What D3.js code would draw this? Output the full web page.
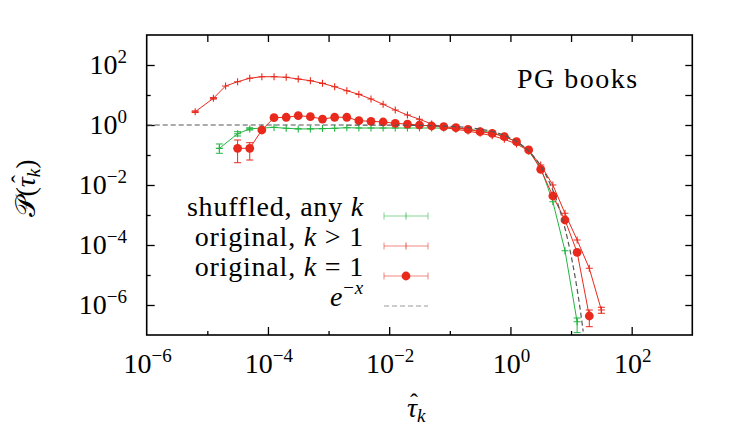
<!DOCTYPE html>
<html>
<head>
<meta charset="utf-8">
<script src="https://cdn.jsdelivr.net/npm/d3@7"></script>
<style>
  html, body { margin: 0; padding: 0; background: #fff; }
  svg { display: block; }
</style>
</head>
<body>
<svg id="chart" width="746" height="432" font-family="'Liberation Serif', 'Times New Roman', Times, serif"></svg>
<script>
// ---------- data ----------
// shuffled, any k
const tauShuffled = [1.58e-5, 3.16e-5, 5.01e-5, 7.94e-5, 1.26e-4, 2.00e-4, 3.16e-4, 5.01e-4, 7.94e-4,
  1.26e-3, 2.00e-3, 3.16e-3, 5.01e-3, 7.94e-3, 1.26e-2, 2.00e-2, 3.16e-2, 5.01e-2, 7.94e-2,
  0.126, 0.200, 0.316, 0.501, 0.794, 1.26, 2.00, 3.16, 5.01, 7.94, 12.6];
const pShuffled = [0.166, 0.513, 0.741, 0.794, 0.832, 0.776, 0.741, 0.741, 0.759,
  0.776, 0.813, 0.794, 0.794, 0.794, 0.794, 0.794, 0.794, 0.794, 0.785,
  0.776, 0.724, 0.646, 0.55, 0.427, 0.269, 0.135, 0.038, 2.75e-3, 6.46e-5, 2.75e-7];
const errShuffledTau = [1.58e-5, 3.16e-5, 5.01e-5, 12.6];
const errShuffledLo  = [0.114, 0.43, 0.68, 1.2e-7];
const errShuffledHi  = [0.233, 0.60, 0.81, 3.7e-7];

// original, k > 1
const tauOrigK = [6.31e-6, 1.26e-5, 2.00e-5, 3.16e-5, 5.01e-5, 7.94e-5, 1.26e-4, 2.00e-4, 3.16e-4,
  5.01e-4, 7.94e-4, 1.26e-3, 2.00e-3, 3.16e-3, 5.01e-3, 7.94e-3, 1.26e-2, 2.00e-2, 3.16e-2,
  5.01e-2, 7.94e-2, 0.126, 0.200, 0.316, 0.501, 0.794, 1.26, 2.00, 3.16, 5.01, 7.94, 12.6, 20.0, 31.6];
const pOrigK = [2.77, 7.76, 20.0, 27.7, 36.1, 40.7, 40.7, 38.9, 34.1,
  30.0, 24.5, 18.9, 13.9, 10.5, 7.36, 4.9, 3.16, 2.15, 1.55,
  1.08, 0.838, 0.719, 0.631, 0.528, 0.44, 0.333, 0.233, 0.139, 0.0465, 0.01, 1.14e-3, 1.47e-4, 1.67e-5, 6.81e-7];
const errOrigKTau = [6.31e-6, 1.26e-5, 31.6];
const errOrigKLo  = [2.6, 7.3, 5.3e-7];
const errOrigKHi  = [2.95, 8.2, 8.4e-7];

// original, k = 1
const tauOrig1 = [3.16e-5, 5.01e-5, 7.94e-5, 1.26e-4, 2.00e-4, 3.16e-4, 5.01e-4, 7.94e-4,
  1.26e-3, 2.00e-3, 3.16e-3, 5.01e-3, 7.94e-3, 1.26e-2, 2.00e-2, 3.16e-2,
  5.01e-2, 7.94e-2, 0.126, 0.200, 0.316, 0.501, 0.794, 1.26, 2.00, 3.16, 5.01, 7.94, 12.6, 20.0];
const pOrig1 = [0.167, 0.167, 0.681, 1.75, 1.81, 2.04, 1.89, 1.58,
  1.81, 1.81, 1.39, 1.33, 1.26, 1.14, 1.07, 1.0,
  0.927, 0.877, 0.813, 0.719, 0.598, 0.528, 0.407, 0.277, 0.147, 0.0333, 4.3e-3, 6.81e-4, 5.71e-5, 4.3e-7];
const errOrig1Tau = [3.16e-5, 5.01e-5, 20.0];
const errOrig1Lo  = [0.0553, 0.068, 1.89e-7];
const errOrig1Hi  = [0.316, 0.257, 6.81e-7];

// tick labels
const xTickExps = [-6, -4, -2, 0, 2];
const yTickExps = [2, 0, -2, -4, -6];
const legendLabels = ["shuffled, any k", "original, k > 1", "original, k = 1", "e^{-x}"];

// ---------- drawing ----------
const RED = "#e8291c", GREEN = "#22b540", DASH = "#555";
const svg = d3.select("#chart");
const L = 146.7, R = 692.3, T = 35, B = 335;
const x = d3.scaleLog().domain([1e-6, 1e3]).range([L, R]);
const y = d3.scaleLog().domain([1e-7, 1e3]).range([B, T]);

svg.append("defs").append("clipPath").attr("id", "clip")
  .append("rect").attr("x", L).attr("y", T).attr("width", R - L).attr("height", B - T);

// axes with ticks (inward)
const xDecades = d3.range(-6, 4).map(e => Math.pow(10, e));
const yDecades = d3.range(-7, 4).map(e => Math.pow(10, e));
const isMajorX = d => xTickExps.includes(Math.round(Math.log10(d)));
const isMajorY = d => yTickExps.includes(Math.round(Math.log10(d)));

const axB = d3.axisBottom(x).tickValues(xDecades.slice(1, -1)).tickFormat("").tickSizeOuter(0);
const axT = d3.axisTop(x).tickValues(xDecades.slice(1, -1)).tickFormat("").tickSizeOuter(0).tickSizeInner(-7);
const axL = d3.axisLeft(y).tickValues(yDecades.slice(1, -1)).tickFormat("").tickSizeOuter(0);
const axR = d3.axisRight(y).tickValues(yDecades.slice(1, -1)).tickFormat("").tickSizeOuter(0).tickSizeInner(-7);

function styleAxis(g) {
  g.select(".domain").remove();
  g.selectAll(".tick line").attr("stroke", "#000").attr("stroke-width", 1.3);
}
const gB = svg.append("g").attr("transform", `translate(0,${B})`).call(axB).call(styleAxis);
gB.selectAll(".tick line").attr("y2", d => isMajorX(d) ? -8 : -4);
svg.append("g").attr("transform", `translate(0,${T})`).call(axT).call(styleAxis);
const gL = svg.append("g").attr("transform", `translate(${L},0)`).call(axL).call(styleAxis);
gL.selectAll(".tick line").attr("x2", d => isMajorY(d) ? 8 : 4);
svg.append("g").attr("transform", `translate(${R},0)`).call(axR).call(styleAxis);

// tick labels
function powLabel(g, px, py, exp, anchor) {
  const t = g.append("text").attr("x", px).attr("y", py).attr("text-anchor", anchor)
    .attr("font-size", 28);
  t.append("tspan").text("10");
  t.append("tspan").attr("dy", -11).attr("font-size", 19)
    .text(exp < 0 ? "\u2212" + Math.abs(exp) : String(exp));
}
const labels = svg.append("g");
xTickExps.forEach(e => powLabel(labels, x(Math.pow(10, e)) + 1, 372.5, e, "middle"));
yTickExps.forEach(e => powLabel(labels, 127, y(Math.pow(10, e)) + 9, e, "end"));

// axis titles
const xt = svg.append("text").attr("x", 407).attr("y", 417).attr("font-size", 28).attr("font-style", "italic");
xt.append("tspan").text("\u03C4");
xt.append("tspan").attr("dy", 5).attr("font-size", 19).text("k");
svg.append("text").attr("x", 414).attr("y", 410).attr("text-anchor", "middle")
  .attr("font-size", 24).text("\u02C6");

const yt = svg.append("text").attr("transform", "translate(35,188) rotate(-90)")
  .attr("text-anchor", "middle").attr("font-size", 28);
yt.append("tspan").text("\uD835\uDCAB(");
yt.append("tspan").attr("font-style", "italic").text("\u03C4");
yt.append("tspan").attr("dy", 5).attr("font-size", 19).attr("font-style", "italic").text("k");
yt.append("tspan").attr("dy", -5).text(")");
// hat over tau in y label (rotated frame)
svg.append("text").attr("transform", "translate(35,188) rotate(-90)")
  .attr("x", 9).attr("y", -7).attr("text-anchor", "middle").attr("font-size", 24).text("\u02C6");

svg.append("text").attr("x", 517).attr("y", 88).attr("font-size", 28)
  .attr("letter-spacing", 1.5).text("PG books");

// plot contents
const plot = svg.append("g").attr("clip-path", "url(#clip)");
const line = d3.line().x(d => x(d[0])).y(d => y(d[1]));

function zip(a, b) { return a.map((v, i) => [v, b[i]]); }

function errorBars(g, taus, lo, hi, color) {
  taus.forEach((t, i) => {
    const px = x(t);
    g.append("line").attr("x1", px).attr("x2", px).attr("y1", y(lo[i])).attr("y2", y(hi[i]))
      .attr("stroke", color).attr("stroke-width", 1);
    [lo[i], hi[i]].forEach(v => g.append("line").attr("x1", px - 3.5).attr("x2", px + 3.5)
      .attr("y1", y(v)).attr("y2", y(v)).attr("stroke", color).attr("stroke-width", 1));
  });
}
function plusMarks(g, pts, color) {
  g.selectAll(null).data(pts).enter().append("path")
    .attr("d", d => `M${x(d[0]) - 3.5},${y(d[1])}h7M${x(d[0])},${y(d[1]) - 3.5}v7`)
    .attr("stroke", color).attr("stroke-width", 1.1).attr("fill", "none");
}

// shuffled
const sPts = zip(tauShuffled, pShuffled);
plot.append("path").datum(sPts).attr("d", line).attr("fill", "none").attr("stroke", GREEN).attr("stroke-width", 1);
errorBars(plot, errShuffledTau, errShuffledLo, errShuffledHi, GREEN);
plusMarks(plot, sPts, GREEN);

// original k>1
const kPts = zip(tauOrigK, pOrigK);
plot.append("path").datum(kPts).attr("d", line).attr("fill", "none").attr("stroke", RED).attr("stroke-width", 1);
errorBars(plot, errOrigKTau, errOrigKLo, errOrigKHi, RED);
plusMarks(plot, kPts, RED);

// original k=1
const oPts = zip(tauOrig1, pOrig1);
plot.append("path").datum(oPts).attr("d", line).attr("fill", "none").attr("stroke", RED).attr("stroke-width", 1);
errorBars(plot, errOrig1Tau, errOrig1Lo, errOrig1Hi, RED);
plot.selectAll(null).data(oPts).enter().append("circle")
  .attr("cx", d => x(d[0])).attr("cy", d => y(d[1])).attr("r", 4.4).attr("fill", RED);

// e^{-x} reference curve
const expTau = d3.range(-6, 1.21, 0.01).map(e => Math.pow(10, e));
plot.append("path").datum(expTau.map(t => [t, Math.exp(-t)]))
  .attr("d", line).attr("fill", "none").attr("stroke", DASH).attr("stroke-width", 1.2)
  .attr("stroke-dasharray", "5,3");

// frame
svg.append("rect").attr("x", L).attr("y", T).attr("width", R - L).attr("height", B - T)
  .attr("fill", "none").attr("stroke", "#000").attr("stroke-width", 1.6);

// legend
const legY = [216, 246, 276, 306];
const lg = svg.append("g");
function legText(i, parts) {
  const t = lg.append("text").attr("x", 364).attr("y", legY[i]).attr("text-anchor", "end")
    .attr("font-size", 28).attr("letter-spacing", 0.8);
  parts.forEach(p => {
    const s = t.append("tspan").text(p.t);
    if (p.i) s.attr("font-style", "italic");
    if (p.dy) s.attr("dy", p.dy);
    if (p.fs) s.attr("font-size", p.fs);
  });
}
legText(0, [{t: "shuffled, any "}, {t: "k", i: true}]);
legText(1, [{t: "original, "}, {t: "k", i: true}, {t: " > 1"}]);
legText(2, [{t: "original, "}, {t: "k", i: true}, {t: " = 1"}]);
legText(3, [{t: "e", i: true}, {t: "\u2212", dy: -12, fs: 19}, {t: "x", i: true, fs: 19}]);

function legSample(i, color, kind) {
  const yy = legY[i];
  if (kind === "dash") {
    lg.append("line").attr("x1", 384).attr("x2", 428).attr("y1", yy).attr("y2", yy)
      .attr("stroke", "#999").attr("stroke-width", 1.2).attr("stroke-dasharray", "5,3");
    return;
  }
  lg.append("path").attr("d", `M384,${yy}H428M384,${yy - 3.5}v7M428,${yy - 3.5}v7`)
    .attr("stroke", color).attr("stroke-width", 1).attr("fill", "none").attr("opacity", 0.55);
  if (kind === "plus") {
    lg.append("path").attr("d", `M406,${yy - 3.5}v7`).attr("stroke", color).attr("stroke-width", 1.1).attr("opacity", 0.7);
  } else {
    lg.append("circle").attr("cx", 406).attr("cy", yy).attr("r", 4.4).attr("fill", color);
  }
}
legSample(0, GREEN, "plus");
legSample(1, RED, "plus");
legSample(2, RED, "dot");
legSample(3, DASH, "dash");
legendLabels.length;
</script>
</body>
</html>
